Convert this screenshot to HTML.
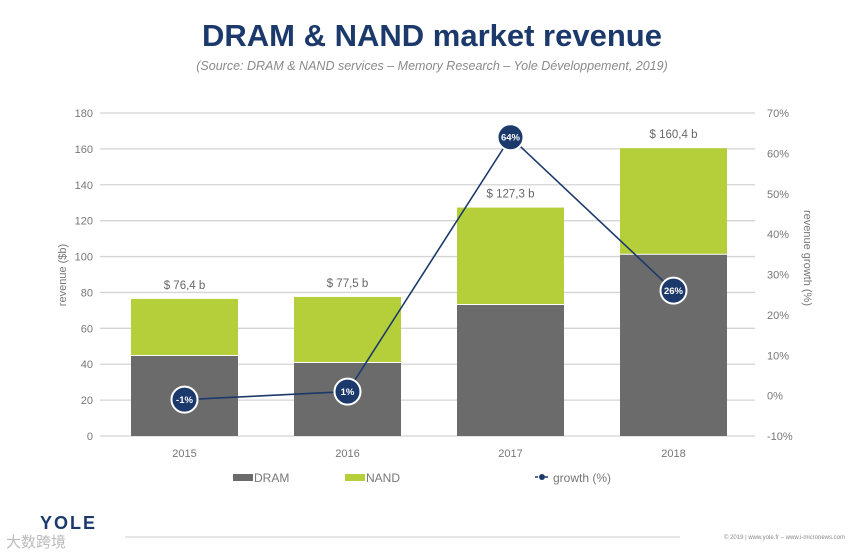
<!DOCTYPE html>
<html><head><meta charset="utf-8"><style>
html,body{margin:0;padding:0;background:#fff;}
body{width:864px;height:552px;overflow:hidden;font-family:"Liberation Sans","Noto Sans CJK SC",sans-serif;}
</style></head><body>
<svg id="chart" width="864" height="552" xmlns="http://www.w3.org/2000/svg" font-family="Liberation Sans, Noto Sans CJK SC, sans-serif">
<text x="432" y="46" text-anchor="middle" font-size="31" font-weight="bold" fill="#1b3a6b">DRAM &amp; NAND market revenue</text>
<text x="432" y="70" text-anchor="middle" font-size="12.5" font-style="italic" fill="#8a8a8a">(Source: DRAM &amp; NAND services – Memory Research – Yole Développement, 2019)</text>
<g id="grid"></g><g id="bars"></g><g id="line"></g><g id="axes"></g>
<text transform="translate(66,275) rotate(-90)" text-anchor="middle" font-size="11" fill="#777">revenue ($b)</text>
<text transform="translate(804,258) rotate(90)" text-anchor="middle" font-size="11" fill="#777">revenue growth (%)</text>
<g font-size="12" fill="#777">
<rect x="233" y="474" width="20" height="7" fill="#6b6b6b"/>
<text x="254" y="482">DRAM</text>
<rect x="345" y="474" width="20" height="7" fill="#b5cf3a"/>
<text x="366" y="482">NAND</text>
<line x1="535" y1="477" x2="550" y2="477" stroke="#1b3a6b" stroke-width="1.5" stroke-dasharray="3,2"/>
<circle cx="542" cy="477" r="3" fill="#1b3a6b"/>
<text x="553" y="482">growth (%)</text>
</g>
<text x="40" y="529" font-size="18" font-weight="bold" fill="#1b3a6b" letter-spacing="2">YOLE</text>
<text x="6" y="547" font-size="15" fill="#bbb">大数跨境</text>
<line x1="125" y1="537" x2="680" y2="537" stroke="#ccc" stroke-width="1"/>
<text x="845" y="539" text-anchor="end" font-size="6" fill="#888">© 2019 | www.yole.fr – www.i-micronews.com</text>
</svg>
<script>
const categories=["2015","2016","2017","2018"];
const dramValues=[44.6,40.7,73,101];
const totalValues=[76.4,77.5,127.3,160.4];
const totalLabels=["$ 76,4 b","$ 77,5 b","$ 127,3 b","$ 160,4 b"];
const growthValues=[-1,1,64,26];
const growthLabels=["-1%","1%","64%","26%"];
const leftTicks=[0,20,40,60,80,100,120,140,160,180];
const rightTicks=[-10,0,10,20,30,40,50,60,70];

const NS="http://www.w3.org/2000/svg";
const x0=103,x1=755,yTop=113,yBot=436;
const band=(x1-x0)/categories.length;
const xC=i=>x0+band*(i+0.5);
const yL=v=>yBot-(v/180)*(yBot-yTop);
const yR=v=>yBot-((v+10)/80)*(yBot-yTop);
function mk(tag,attrs,parent,text){const e=document.createElementNS(NS,tag);for(const k in attrs)e.setAttribute(k,attrs[k]);if(text!==undefined)e.textContent=text;document.getElementById(parent).appendChild(e);return e;}

leftTicks.forEach(t=>{
  const l=mk('line',{x1:x0-3,x2:x1,y1:yL(t),y2:yL(t),stroke:'#d4d4d4','stroke-width':1.3},'grid');
  
  
  const tx=mk('text',{x:93,y:yL(t)+4,'text-anchor':'end','font-size':11,fill:'#777'},'axes',String(t));
  
  
});
rightTicks.forEach(t=>{
  const tx=mk('text',{x:767,y:yR(t)+4,'font-size':11,fill:'#777'},'axes',t+'%');
  
  
});
const bw=107;
categories.forEach((c,i)=>{
  const cx=xC(i);
  const d=mk('rect',{x:cx-bw/2,y:yL(dramValues[i]),width:bw,height:yBot-yL(dramValues[i]),fill:'#6b6b6b'},'bars');
  
  
  const n=mk('rect',{x:cx-bw/2,y:yL(totalValues[i]),width:bw,height:yL(dramValues[i])-yL(totalValues[i])-1,fill:'#b5cf3a'},'bars');
  
  
  const tl=mk('text',{x:cx,y:yL(totalValues[i])-10,'text-anchor':'middle','font-size':11.5,fill:'#666'},'bars',totalLabels[i]);
  
  
  const xl=mk('text',{x:cx,y:457,'text-anchor':'middle','font-size':11,fill:'#777'},'axes',c);
  
  
});
const pts=growthValues.map((v,i)=>xC(i)+','+yR(v)).join(' ');
const pl=mk('polyline',{points:pts,fill:'none',stroke:'#1b3a6b','stroke-width':1.6},'line');


growthValues.forEach((v,i)=>{
  const c=mk('circle',{cx:xC(i),cy:yR(v),r:13,fill:'#1b3a6b',stroke:'#fff','stroke-width':2},'line');
  
  
  const t=mk('text',{x:xC(i),y:yR(v)+3.5,'text-anchor':'middle','font-size':9.5,'font-weight':'bold',fill:'#fff'},'line',growthLabels[i]);
  
  
});
</script>
</body></html>
